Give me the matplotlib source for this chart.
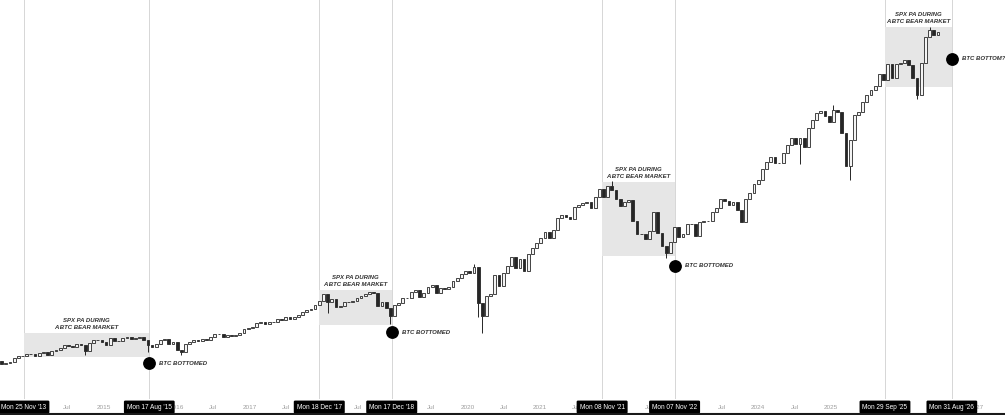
import matplotlib
matplotlib.use("Agg")
import matplotlib.pyplot as plt
import matplotlib.dates as mdates
import numpy as np
import pandas as pd

# SPX, 3-week candles (open = previous close)
start_date = "2013-08-05"
first_open = 1706
closes = [
    1663, 1688, 1690, 1759, 1798, 1805, 1841, 1839,  # 2013
    1797, 1859, 1866, 1815, 1881, 1900, 1936, 1985, 1978, 1955, 2008, 1982, 1887, 2032, 2068, 2071, 2045,  # 2014
    1995, 2110, 2053, 2067, 2117, 2122, 2092, 2102, 2127, 2078, 1989, 1958, 2015, 2079, 2089, 2012, 2044,  # 2015
    1907, 1865, 2000, 2035, 2081, 2057, 2099, 2071, 2130, 2174, 2184, 2128, 2168, 2141, 2164, 2192, 2264, 2275,  # 2016
    2297, 2367, 2378, 2356, 2384, 2381, 2432, 2423, 2473, 2441, 2477, 2502, 2553, 2587, 2602, 2675, 2743,  # 2017
    2873, 2732, 2786, 2641, 2670, 2728, 2735, 2755, 2801, 2840, 2875, 2905, 2885, 2658, 2736, 2633, 2486, 2671,  # 2018
    2707, 2804, 2800, 2907, 2946, 2826, 2887, 2990, 3026, 2889, 2979, 2962, 2986, 3093, 3141, 3221, 3265,  # 2019
    3226, 3338, 2711, 2489, 2837, 2864, 3194, 3009, 3225, 3351, 3508, 3319, 3477, 3270, 3557, 3663, 3756,  # 2020
    3841, 3935, 3842, 3975, 4185, 4233, 4204, 4166, 4370, 4395, 4442, 4459, 4357, 4545, 4683, 4538, 4725, 4663,  # 2021
    4501, 4385, 4463, 4488, 4132, 3901, 3901, 3825, 3962, 4280, 3924, 3693, 3583, 3771, 4027, 3852, 3895,  # 2022
    4071, 4079, 3862, 4109, 4133, 4124, 4282, 4348, 4505, 4478, 4406, 4450, 4309, 4117, 4514, 4604, 4770,  # 2023
    4840, 5027, 5137, 5234, 5123, 5128, 5305, 5432, 5567, 5459, 5554, 5408, 5738, 5865, 5996, 6032, 5931, 5827,  # 2024
    6041, 6013, 5639, 5074, 5525, 5958, 6000, 6173, 6297, 6389, 6460, 6664, 6552, 6840, 6600, 6830, 6860,  # 2025
    6900, 6820, 6600, 6300, 6850, 7300, 7420, 7330, 7380,  # 2026
]

# long wicks that show on the chart
wick_low_dates = ["2014-09-29", "2015-08-10", "2016-01-25", "2018-01-29", "2018-12-10", "2020-02-24",
                  "2020-03-16", "2022-09-26", "2023-10-09", "2024-07-29", "2025-04-07", "2026-03-09"]
wick_low_values = [1821, 1867, 1810, 2533, 2346, 2478, 2192, 3491, 4104, 5119, 4835, 6230]
wick_high_dates = ["2020-02-03", "2021-12-27", "2025-01-13", "2026-05-11"]
wick_high_values = [3393, 4818, 6128, 7470]

# BTC bear market windows
bear_starts = ["2013-11-25", "2017-12-18", "2021-11-08", "2025-09-29"]
bear_ends = ["2015-08-17", "2018-12-17", "2022-11-07", "2026-08-31"]
bear_box_low = [1783, 2334, 3524, 6438]
bear_box_high = [2197, 2938, 4800, 7472]
bottom_levels = [1679, 2214, 3352, 6921]
bottom_texts = ["BTC BOTTOMED", "BTC BOTTOMED", "BTC BOTTOMED", "BTC BOTTOM?"]
date_tags = ["Mon 25 Nov '13", "Mon 17 Aug '15", "Mon 18 Dec '17", "Mon 17 Dec '18",
             "Mon 08 Nov '21", "Mon 07 Nov '22", "Mon 29 Sep '25", "Mon 31 Aug '26"]
tag_dates = ["2013-11-25", "2015-08-17", "2017-12-18", "2018-12-17",
             "2021-11-08", "2022-11-07", "2025-09-29", "2026-08-31"]

dates = pd.date_range(start_date, periods=len(closes), freq="21D")
x = mdates.date2num(dates)
c = np.array(closes, dtype=float)
o = np.array([first_open] + closes[:-1], dtype=float)

fig = plt.figure(figsize=(10.05, 4.15), dpi=100)
ax = fig.add_axes([0, 0, 1, 1])
ax.set_xlim(mdates.datestr2num("2013-07-28"), mdates.datestr2num("2027-05-25"))
ax.set_ylim(783, 7938)
ax.axis("off")

dark = "#262626"
note_font = dict(family="Liberation Sans", style="italic", weight="bold",
                 fontsize=4.3, color="#333333")

# shaded boxes and vertical markers
for s, e, lo, hi in zip(bear_starts, bear_ends, bear_box_low, bear_box_high):
    xs, xe = mdates.datestr2num(s), mdates.datestr2num(e)
    ax.fill_between([xs, xe], lo, hi, color="#e6e6e6", lw=0, zorder=1)
    ax.annotate("SPX PA DURING\nA BTC BEAR MARKET", ((xs + xe) / 2, hi), xytext=(0, 2.5),
                textcoords="offset points", ha="center", va="bottom", linespacing=1.35,
                zorder=6, **note_font)

for d in tag_dates:
    ax.axvline(mdates.datestr2num(d), ymin=1 - 398 / 415, ymax=1, color="#d6d6d6", lw=0.7, zorder=0)

# wicks
lo_body = np.minimum(o, c)
hi_body = np.maximum(o, c)
for d, v in zip(wick_low_dates, wick_low_values):
    i = np.argmin(np.abs(x - mdates.datestr2num(d)))
    ax.vlines(x[i], v, lo_body[i], color=dark, lw=0.7, zorder=2)
for d, v in zip(wick_high_dates, wick_high_values):
    i = np.argmin(np.abs(x - mdates.datestr2num(d)))
    ax.vlines(x[i], hi_body[i], v, color=dark, lw=0.7, zorder=2)

# candle bodies
up = c >= o
ax.bar(x[up], (c - o)[up], bottom=o[up], width=14, facecolor="#f4f4f4", edgecolor=dark, lw=0.6, zorder=3)
ax.bar(x[~up], (o - c)[~up], bottom=c[~up], width=14, facecolor=dark, edgecolor=dark, lw=0.6, zorder=3)

# BTC bottom dots
for e, lv, t in zip(bear_ends, bottom_levels, bottom_texts):
    xe = mdates.datestr2num(e)
    ax.plot(xe, lv, "o", color="black", ms=8.2, zorder=7)
    ax.annotate(t, (xe, lv), xytext=(7.2, 0), textcoords="offset points", ha="left", va="center",
                zorder=7, **note_font)

# time axis labels
trans = ax.get_xaxis_transform()
ylab = 1 - 407 / 415
for yr in range(2014, 2028):
    for m, lab in [(1, str(yr)), (7, "Jul")]:
        ax.text(mdates.datestr2num(f"{yr}-{m:02d}-01"), ylab, lab, transform=trans, ha="center",
                va="center", fontsize=4.6, color="#9e9e9e", family="Liberation Sans", zorder=5)
for d, t in zip(tag_dates, date_tags):
    ax.text(mdates.datestr2num(d), ylab, t, transform=trans, ha="center", va="center",
            fontsize=4.7, color="white", family="Liberation Sans", zorder=10,
            bbox=dict(boxstyle="round,pad=0.45,rounding_size=0.2", fc="black", ec="black", lw=0))

fig.add_artist(plt.Line2D([0, 1], [1.5 / 415, 1.5 / 415], color="#1a1a1a", lw=1.5))

fig.savefig("out.png", dpi=100, facecolor="white")
